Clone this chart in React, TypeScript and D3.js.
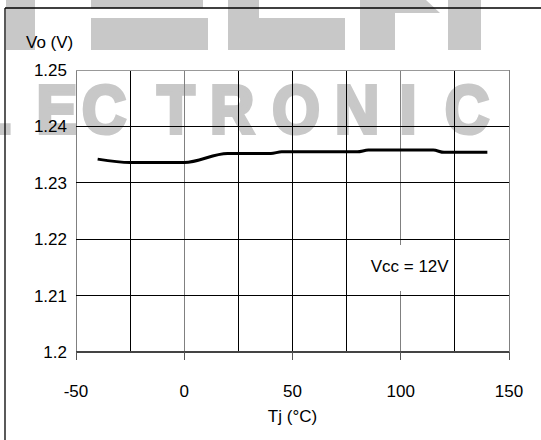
import React from "react";
import * as d3 from "d3";

const tempC = [-40, -25, 0, 20, 40, 45, 80, 85, 115, 120, 140];
const voltV = [1.2342, 1.2336, 1.2336, 1.2352, 1.2352, 1.2355, 1.2355, 1.2358, 1.2358, 1.2354, 1.2354];
const xTickLabels = [-50, 0, 50, 100, 150];
const xGrid = [-50, -25, 0, 25, 50, 75, 100, 125, 150];
const yTickLabels = ["1.25", "1.24", "1.23", "1.22", "1.21", "1.2"];
const yGrid = [1.25, 1.24, 1.23, 1.22, 1.21, 1.2];
const wmLetters = ["L", "E", "C", "T", "R", "O", "N", "I", "C"];
const wmCenters = [-8, 57, 104, 176, 232, 296, 357, 408, 467];

const W = 541, H = 440;
const FONT = "'Liberation Sans', Arial, sans-serif";

export default function App() {
  const x = d3.scaleLinear().domain([-50, 150]).range([76, 509]);
  const y = d3.scaleLinear().domain([1.2, 1.25]).range([352, 70]);
  const pts = tempC.map((t, i) => [t, voltV[i]] as [number, number]);
  const line = d3
    .line<[number, number]>()
    .x(d => x(d[0]))
    .y(d => y(d[1]))
    .curve(d3.curveMonotoneX);
  const path = line(pts) || "";
  const grayW = "#c8c8c8";
  const vGridColor = (v: number) => (v === -50 || v === 150 || v === 0 || v === 100 ? "#808080" : "#000");
  const hGridColor = (v: number) => (v === 1.25 ? "#999" : "#000");

  return (
    <svg width={W} height={H} style={{ position: "absolute", left: 0, top: 0, background: "#fff" }} fontFamily={FONT}>
      <rect x={0} y={0} width={W} height={H} fill="#fff" />
      {/* watermark top row */}
      <g fill={grayW}>
        <rect x={6} y={0} width={29} height={50} />
        <rect x={91} y={0} width={112} height={8} />
        <rect x={91} y={18} width={117} height={32} />
        <rect x={228} y={0} width={31} height={50} />
        <rect x={228} y={18} width={117} height={32} />
        <rect x={360} y={0} width={35} height={50} />
        <polygon points="395,0 426,0 440,13 395,13" />
        <rect x={448} y={0} width={33} height={50} />
      </g>
      {/* watermark middle row */}
      <g fill={grayW} stroke={grayW} strokeWidth={4} strokeLinejoin="miter" fontWeight="bold" fontSize={68} textAnchor="middle">
        {wmLetters.map((l, i) => (
          <text key={i} transform={`translate(${wmCenters[i]},133) scale(0.9,1)`}>{l}</text>
        ))}
      </g>
      {/* frame */}
      <line x1={5} y1={8} x2={W} y2={8} stroke="#000" strokeWidth={1.3} />
      <line x1={5} y1={8} x2={5} y2={H} stroke="#000" strokeWidth={1.3} />
      {/* grid */}
      {xGrid.map(v => (
        <line key={"vx" + v} x1={x(v)} x2={x(v)} y1={y(1.25)} y2={y(1.2)} stroke={vGridColor(v)} strokeWidth={1} shapeRendering="crispEdges" />
      ))}
      {yGrid.filter(v => v !== 1.2).map(v => (
        <line key={"hy" + v} x1={x(-50)} x2={x(150)} y1={y(v)} y2={y(v)} stroke={hGridColor(v)} strokeWidth={1} shapeRendering="crispEdges" />
      ))}
      {/* bottom axis */}
      <line x1={x(-50)} x2={x(150)} y1={y(1.2)} y2={y(1.2)} stroke="#444" strokeWidth={2} />
      {xTickLabels.map(v => (
        <line key={"tk" + v} x1={x(v)} x2={x(v)} y1={y(1.2)} y2={y(1.2) + 8} stroke="#555" strokeWidth={1} shapeRendering="crispEdges" />
      ))}
      {/* annotation box */}
      <rect x={365} y={245} width={87} height={46} fill="#fff" />
      <text x={370.7} y={271.7} fontSize={17} fill="#000">Vcc = 12V</text>
      {/* data line */}
      <path d={path} fill="none" stroke="#000" strokeWidth={3} strokeLinejoin="round" strokeLinecap="butt" />
      {/* y labels */}
      {yTickLabels.map((s, i) => (
        <text key={"yl" + s} x={67} y={y(yGrid[i]) + 6} fontSize={17} textAnchor="end" fill="#000">{s}</text>
      ))}
      <text x={26} y={48} fontSize={17} fill="#000">Vo (V)</text>
      {/* x labels */}
      {xTickLabels.map(v => (
        <text key={"xl" + v} x={x(v)} y={396.5} fontSize={17} textAnchor="middle" fill="#000">{String(v)}</text>
      ))}
      <text x={(x(-50) + x(150)) / 2} y={422} fontSize={17} textAnchor="middle" fill="#000">Tj (°C)</text>
    </svg>
  );
}
